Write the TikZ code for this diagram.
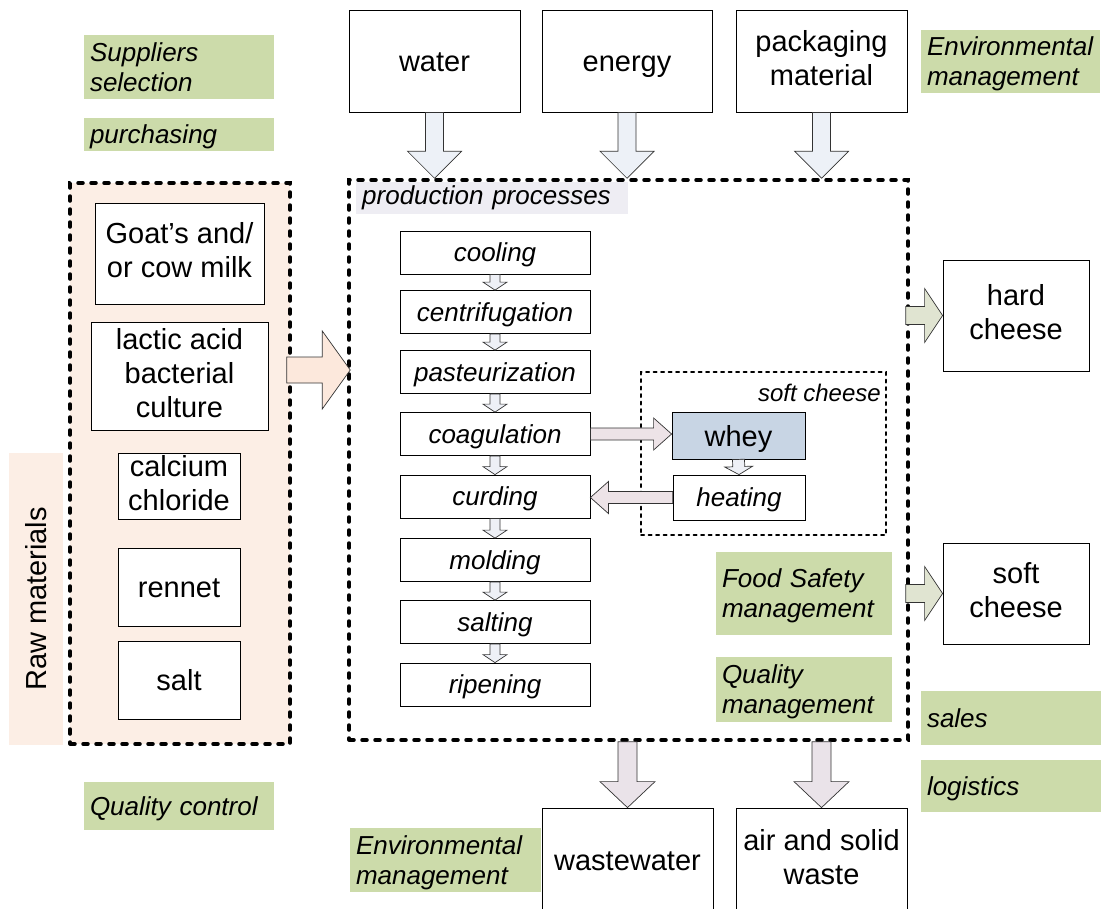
\documentclass[tikz,border=0pt]{standalone}
\usepackage{fontspec}
\setmainfont{Liberation Sans}
\usetikzlibrary{calc}

\definecolor{mgmtgreen}{HTML}{CCDBAA}
\definecolor{rawfill}{HTML}{FCEEE5}
\definecolor{rawarrow}{HTML}{FCE8DC}
\definecolor{prodgray}{HTML}{EEEDF3}
\definecolor{inarrow}{HTML}{EDF1F7}
\definecolor{outarrow}{HTML}{EAE3E9}
\definecolor{pinkarrow}{HTML}{EDE3E7}
\definecolor{smallarrow}{HTML}{EEF0F6}
\definecolor{cheesearrow}{HTML}{E0E4D1}
\definecolor{wheyfill}{HTML}{C8D5E4}

\newcommand{\linestrut}{\rule[-0.19\baselineskip]{0pt}{\baselineskip}}

\tikzset{
  struts/.style={execute at begin node=\linestrut, execute at end node=\linestrut},
  box/.style={draw, line width=0.8pt, fill=white, align=center, inner sep=2pt, struts,
    font=\fontsize{29}{34}\selectfont},
  procbox/.style={draw, line width=0.8pt, fill=white, minimum width=190pt, struts,
    minimum height=43pt, font=\fontsize{26}{30}\selectfont\itshape},
  mgmt/.style={fill=mgmtgreen, align=left, inner xsep=6pt, inner ysep=0pt, struts,
    font=\fontsize{26}{30}\selectfont\itshape},
  bigdash/.style={draw, line width=3.5pt, line cap=round, dash pattern=on 5pt off 8pt},
  arrowline/.style={draw=black!80, line width=0.7pt, line join=miter},
}

% block arrow: [style]{from}{to}{shaft half width}{head half width}{head length}
\newcommand{\fatarrow}[6][]{%
  \draw[arrowline,#1] let \p1=(#2), \p2=(#3),
      \n1={atan2(\y2-\y1,\x2-\x1)}, \n2={veclen(\x2-\x1,\y2-\y1)} in
    [shift={(\p1)}, rotate=\n1]
    (0,#4) -- ({\n2-#6},#4) -- ({\n2-#6},#5) -- (\n2,0)
    -- ({\n2-#6},-#5) -- ({\n2-#6},-#4) -- (0,-#4) -- cycle;}

\begin{document}
\begin{tikzpicture}[x=1pt, y=-1pt]
\useasboundingbox (0,0) rectangle (1102,908);

% inputs
\node[box, minimum width=171pt, minimum height=102pt] (water) at (434.5,61) {water};
\node[box, minimum width=170pt, minimum height=102pt] (energy) at (627,61) {energy};
\node[box, minimum width=171pt, minimum height=102pt] (pack) at (821.5,61) {packaging\\material};

% raw materials
\node[bigdash, fill=rawfill, minimum width=220pt, minimum height=561pt] (raw) at (180,463.5) {};
\node[fill=rawfill, rotate=90, minimum width=292pt, minimum height=54pt,
  font=\fontsize{29}{34}\selectfont] (rawlbl) at (36,599) {Raw materials};
\node[box, minimum width=169pt, minimum height=101pt] (milk) at (179.5,253.5) {Goat’s and/\\or cow milk};
\node[box, minimum width=177pt, minimum height=108pt] (lactic) at (179.5,376) {lactic acid\\bacterial\\culture};
\node[box, minimum width=122pt, minimum height=66pt] (calcium) at (179,486) {calcium\\chloride};
\node[box, minimum width=122pt, minimum height=78pt] (rennet) at (179,587) {rennet};
\node[box, minimum width=122pt, minimum height=78pt] (salt) at (179,680) {salt};

% production
\node[bigdash, minimum width=559pt, minimum height=560pt] (prod) at (628.5,460) {};
\node[fill=prodgray, anchor=north west, text width=260pt, inner xsep=6pt, inner ysep=0pt,
  minimum height=32pt, align=left, font=\fontsize{26}{30}\selectfont\itshape]
  (prodlbl) at (356,182) {production processes};
\foreach \nm/\yy/\txt in {cooling/252.5/cooling, centrif/312/centrifugation,
    pasteur/372/pasteurization, coag/434/coagulation, curding/496.5/curding,
    molding/560/molding, salting/622/salting, ripening/684.5/ripening}
  \node[procbox] (\nm) at (495,\yy) {\txt};
\foreach \a/\b in {cooling/centrif, centrif/pasteur, pasteur/coag, coag/curding,
    curding/molding, molding/salting, salting/ripening}
  \fatarrow[fill=smallarrow]{\a.south}{\b.north}{5}{12}{8};

% soft cheese branch
\node[draw, line width=2pt, line cap=round, dash pattern=on 3pt off 4.5pt,
  minimum width=245pt, minimum height=163pt] (softbox) at (763.5,453.5) {};
\node[anchor=north east, inner sep=0pt, font=\fontsize{24}{28}\selectfont\itshape]
  (softlbl) at ($(softbox.north east)+(-6,13)$) {soft cheese};
\node[box, fill=wheyfill, minimum width=133pt, minimum height=47pt] (whey) at (738.5,435.5) {whey};
\node[box, minimum width=132pt, minimum height=45pt, font=\fontsize{26}{30}\selectfont\itshape]
  (heating) at (739,497.5) {heating};
\fatarrow[fill=pinkarrow]{coag.east}{coag.east -| whey.west}{6}{16}{18}
\fatarrow[fill=pinkarrow]{heating.west}{heating.west -| curding.east}{6}{16}{18}
\fatarrow[fill=smallarrow]{whey.south}{heating.north}{6}{14}{8}

% outputs
\node[box, minimum width=146pt, minimum height=111pt] (hard) at (1016,315.5) {hard\\cheese};
\node[box, minimum width=146pt, minimum height=101pt] (soft) at (1016,593.5) {soft\\cheese};
\node[box, minimum width=171pt, minimum height=104pt] (waste) at (627.5,860) {wastewater};
\node[box, minimum width=171pt, minimum height=104pt] (airwaste) at (821.5,860) {air and solid\\waste};

% management labels
\node[mgmt, text width=178pt, minimum height=64pt] (suppl) at (179,67) {Suppliers\\selection};
\node[mgmt, text width=178pt, minimum height=33pt] (purch) at (179,134.5) {purchasing};
\node[mgmt, text width=178pt, minimum height=48pt] (qctrl) at (179,806) {Quality control};
\node[mgmt, text width=167pt, minimum height=63pt] (envtop) at (1010.5,61.5) {Environmental\\management};
\node[mgmt, text width=164pt, minimum height=83pt] (foodsafe) at (804,593.5) {Food Safety\\management};
\node[mgmt, text width=164pt, minimum height=65pt] (qmgmt) at (804,689.5) {Quality\\management};
\node[mgmt, text width=168pt, minimum height=54pt] (sales) at (1011,718) {sales};
\node[mgmt, text width=168pt, minimum height=52pt] (logist) at (1011,786) {logistics};
\node[mgmt, text width=179pt, minimum height=64pt] (envbot) at (445.5,860) {Environmental\\management};

% block arrows
\foreach \inp in {water, energy, pack}
  \fatarrow[fill=inarrow]{\inp.south}{\inp.south |- prod.north}{9}{27}{27};
\fatarrow[fill=rawarrow]{$(raw.east |- lactic)+(-5,-6)$}{$(prod.west |- lactic)+(3,-6)$}{13}{39}{28}
\fatarrow[fill=cheesearrow]{$(hard.west -| prod.east)+(-4,0)$}{hard.west}{9}{27}{18}
\fatarrow[fill=cheesearrow]{$(soft.west -| prod.east)+(-4,0)$}{soft.west}{9}{27}{18}
\fatarrow[fill=outarrow]{waste.north |- prod.south}{waste.north}{9.5}{27.5}{26}
\fatarrow[fill=outarrow]{airwaste.north |- prod.south}{airwaste.north}{9.5}{27.5}{26}
\end{tikzpicture}
\end{document}
